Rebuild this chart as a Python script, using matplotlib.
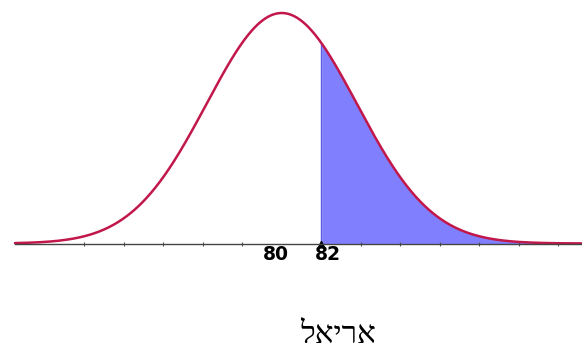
import numpy as np
import matplotlib
matplotlib.use("Agg")
import matplotlib.pyplot as plt
from matplotlib.transforms import ScaledTranslation

# Normal distribution parameters
mean = 80
sd = 3.8
cutoff = 82
x_range = (66.5, 95.2)
minor_ticks = list(range(70, 96, 2))
label_ticks = [80, 82]
label_shift_px = [-6, 7]  # labels sit slightly off their tick
caption = "אריאל"

curve_color = (0.76, 0.09, 0.29)
fill_color = (0.5, 0.5, 1.0)

fig = plt.figure(figsize=(5.82, 3.5), dpi=100)
ax = fig.add_axes([15 / 582, 106.5 / 350, 567 / 582, 230.5 / 350])

x = np.linspace(x_range[0], x_range[1], 600)
y = np.exp(-0.5 * ((x - mean) / sd) ** 2)  # scaled so the peak is 1

ax.fill_between(x, 0, y, where=x >= cutoff, color=fill_color, linewidth=0)
ax.vlines(cutoff, 0, np.exp(-0.5 * ((cutoff - mean) / sd) ** 2), color=(0.35, 0.35, 0.9), linewidth=1)
ax.plot(x, y, color=curve_color, linewidth=1.8, clip_on=False, solid_capstyle='round')
ax.plot([cutoff], [0], marker='^', color='black', markersize=4, clip_on=False)

ax.set_xlim(*x_range)
ax.set_ylim(0, 1)

# only the bottom axis line is kept
for side in ['top', 'left', 'right']:
    ax.spines[side].set_visible(False)
ax.spines['bottom'].set_color('#444444')
ax.spines['bottom'].set_linewidth(1)
ax.set_yticks([])

ax.set_xticks(minor_ticks, minor=True)
ax.tick_params(axis='x', which='minor', length=2.5, width=0.8, color='#555555', direction='inout')
ax.set_xticks(label_ticks)
ax.set_xticklabels([str(v) for v in label_ticks], fontweight='bold', fontsize=13.5, family='DejaVu Sans')
ax.tick_params(axis='x', which='major', length=0, pad=1)
for lbl, dx in zip(ax.get_xticklabels(), label_shift_px):
    lbl.set_transform(lbl.get_transform() + ScaledTranslation(dx / 100, 0, fig.dpi_scale_trans))

# matplotlib has no bidi support, so reverse the Hebrew word for display
fig.text(338 / 582, 1 - 343 / 350, caption[::-1], ha='center', va='baseline', fontsize=22.5,
         family=['Liberation Serif', 'DejaVu Sans'])

fig.savefig("out.png", dpi=100)
